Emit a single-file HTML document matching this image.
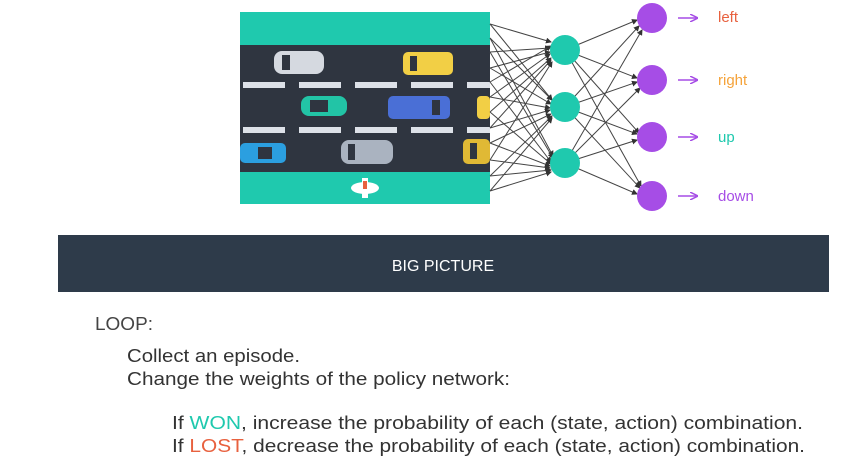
<!DOCTYPE html>
<html><head><meta charset="utf-8"><style>
html,body{margin:0;padding:0;background:#fff;}
svg{display:block;font-family:"Liberation Sans",sans-serif;}
</style></head><body>
<svg width="850" height="470" viewBox="0 0 850 470" xmlns="http://www.w3.org/2000/svg">
<defs>
<marker id="a" markerWidth="6" markerHeight="6" refX="5" refY="3" orient="auto" markerUnits="userSpaceOnUse"><path d="M0,0 L6,3 L0,6 z" fill="#333"/></marker>
<marker id="p" markerWidth="8" markerHeight="8" refX="7" refY="4" orient="auto" markerUnits="userSpaceOnUse"><path d="M0,0 L8,4 L0,8" fill="none" stroke="#a64de6" stroke-width="1.5"/></marker>
</defs>
<rect x="240" y="12" width="250" height="192" fill="#1fc9ae"/>
<rect x="240" y="45" width="250" height="127" fill="#2f3540"/>
<g fill="#dde1e8">
<rect x="243" y="82" width="42" height="6"/><rect x="299" y="82" width="42" height="6"/><rect x="355" y="82" width="42" height="6"/><rect x="411" y="82" width="42" height="6"/><rect x="467" y="82" width="23" height="6"/>
<rect x="243" y="127" width="42" height="6"/><rect x="299" y="127" width="42" height="6"/><rect x="355" y="127" width="42" height="6"/><rect x="411" y="127" width="42" height="6"/><rect x="467" y="127" width="23" height="6"/>
</g>
<rect x="274" y="51" width="50" height="23" rx="8" fill="#d5d9e0"/><rect x="282" y="55" width="8" height="15" fill="#2f3540"/>
<rect x="403" y="52" width="50" height="23" rx="5" fill="#f2cf45"/><rect x="410" y="56" width="7" height="15" fill="#2f3540"/>
<rect x="301" y="96" width="46" height="20" rx="8" fill="#22c4a6"/><rect x="310" y="100" width="18" height="12" fill="#2f3540"/>
<rect x="388" y="96" width="62" height="23" rx="5" fill="#4a6fd6"/><rect x="432" y="100" width="8" height="15" fill="#2f3540"/>
<rect x="477" y="96" width="13" height="23" rx="4" fill="#f2cf45"/>
<rect x="240" y="143" width="46" height="20" rx="5" fill="#2b9fe0"/><rect x="258" y="147" width="14" height="12" fill="#2f3540"/>
<rect x="341" y="140" width="52" height="24" rx="8" fill="#aab3c0"/><rect x="348" y="144" width="7" height="16" fill="#2f3540"/>
<rect x="463" y="139" width="27" height="25" rx="5" fill="#e0b935"/><rect x="470" y="143" width="7" height="16" fill="#2f3540"/>
<ellipse cx="365" cy="188" rx="14" ry="6" fill="#fff"/><rect x="362" y="178" width="6" height="20" fill="#fff"/><rect x="363" y="181" width="4" height="8" fill="#e8613f"/>
<g stroke="#444" stroke-width="1" marker-end="url(#a)">
<line x1="490" y1="24" x2="551" y2="42"/><line x1="490" y1="24" x2="552" y2="100"/>
<line x1="490" y1="38" x2="552" y2="100"/><line x1="490" y1="38" x2="553" y2="156"/>
<line x1="490" y1="52" x2="550" y2="48"/><line x1="490" y1="52" x2="553" y2="158"/>
<line x1="490" y1="68" x2="550" y2="52"/><line x1="490" y1="68" x2="551" y2="104"/>
<line x1="490" y1="82" x2="551" y2="46"/><line x1="490" y1="82" x2="551" y2="162"/>
<line x1="490" y1="97" x2="550" y2="54"/><line x1="490" y1="97" x2="550" y2="108"/>
<line x1="490" y1="112" x2="551" y2="58"/><line x1="490" y1="112" x2="551" y2="164"/>
<line x1="490" y1="128" x2="550" y2="110"/><line x1="490" y1="128" x2="551" y2="60"/>
<line x1="490" y1="143" x2="551" y2="114"/><line x1="490" y1="143" x2="550" y2="166"/>
<line x1="490" y1="160" x2="552" y2="62"/><line x1="490" y1="160" x2="550" y2="168"/>
<line x1="490" y1="176" x2="552" y2="116"/><line x1="490" y1="176" x2="551" y2="170"/>
<line x1="490" y1="191" x2="552" y2="118"/><line x1="490" y1="191" x2="551" y2="172"/>
</g>
<g stroke="#444" stroke-width="1" marker-end="url(#a)">
<line x1="565" y1="50" x2="637" y2="20"/><line x1="565" y1="50" x2="637" y2="78"/><line x1="565" y1="50" x2="639" y2="133"/><line x1="565" y1="50" x2="641" y2="186"/>
<line x1="565" y1="107" x2="639" y2="26"/><line x1="565" y1="107" x2="637" y2="82"/><line x1="565" y1="107" x2="637" y2="134"/><line x1="565" y1="107" x2="640" y2="188"/>
<line x1="565" y1="163" x2="642" y2="30"/><line x1="565" y1="163" x2="640" y2="88"/><line x1="565" y1="163" x2="637" y2="140"/><line x1="565" y1="163" x2="637" y2="194"/>
</g>
<g fill="#1fc9ae"><circle cx="565" cy="50" r="15"/><circle cx="565" cy="107" r="15"/><circle cx="565" cy="163" r="15"/></g>
<g fill="#a64de6"><circle cx="652" cy="18" r="15"/><circle cx="652" cy="80" r="15"/><circle cx="652" cy="137" r="15"/><circle cx="652" cy="196" r="15"/></g>
<g stroke="#a64de6" stroke-width="1.5" marker-end="url(#p)">
<line x1="678" y1="18" x2="697" y2="18"/><line x1="678" y1="80" x2="697" y2="80"/><line x1="678" y1="137" x2="697" y2="137"/><line x1="678" y1="196" x2="697" y2="196"/>
</g>
<g font-size="15">
<text x="718" y="22" fill="#e8613f">left</text>
<text x="718" y="85" fill="#f5a33a">right</text>
<text x="718" y="142" fill="#1fc9ae">up</text>
<text x="718" y="201" fill="#a64de6">down</text>
</g>
<rect x="58" y="235" width="771" height="57" fill="#2e3b4a"/>
<text x="443" y="271" fill="#fff" font-size="16" text-anchor="middle">BIG PICTURE</text>
<g fill="#333" font-size="18">
<text x="95" y="330" fill="#444" textLength="58" lengthAdjust="spacingAndGlyphs">LOOP:</text>
<text x="127" y="362" textLength="173" lengthAdjust="spacingAndGlyphs">Collect an episode.</text>
<text x="127" y="385" textLength="383" lengthAdjust="spacingAndGlyphs">Change the weights of the policy network:</text>
<text x="172" y="429" textLength="631" lengthAdjust="spacingAndGlyphs">If <tspan fill="#1fc9ae">WON</tspan>, increase the probability of each (state, action) combination.</text>
<text x="172" y="452" textLength="633" lengthAdjust="spacingAndGlyphs">If <tspan fill="#e8613f">LOST</tspan>, decrease the probability of each (state, action) combination.</text>
</g>
</svg>
</body></html>
